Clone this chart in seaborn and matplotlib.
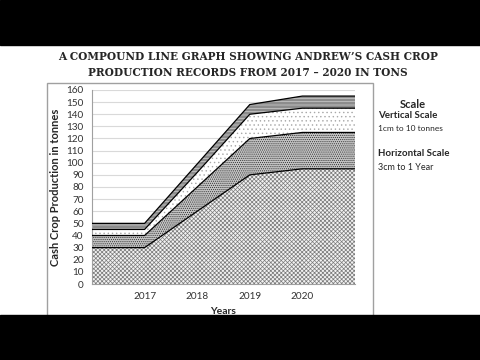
import matplotlib
matplotlib.use("Agg")
import matplotlib.pyplot as plt
import matplotlib.patches as mpatches
import seaborn as sns
import numpy as np

# positions 0..5, years sit on 1..4, the two ends are blank slots
positions = [0, 1, 2, 3, 4, 5]
tick_years = ["2017", "2018", "2019", "2020"]

# cumulative heights of each band (tonnes)
band1 = [30, 30, 60, 90, 95, 95]
band2 = [40, 40, 80, 120, 125, 125]
band3 = [45, 45, 92, 140, 145, 145]
band4 = [50, 50, 99, 148, 155, 155]

sns.set_style("white")
plt.rcParams["font.family"] = ["Lato", "DejaVu Sans"]
plt.rcParams["hatch.linewidth"] = 0.5

fig = plt.figure(figsize=(4.8, 3.6), dpi=100)
W, H = 480, 360

def fx(px):
    return px / W

def fy(py):
    return 1 - py / H

# outer chart frame
fig.patches.append(mpatches.Rectangle((fx(47), fy(330)), fx(373) - fx(47), fy(83) - fy(330),
                                      transform=fig.transFigure, fill=False,
                                      edgecolor="#a0a0a0", linewidth=1.0, zorder=0))

ax = fig.add_axes([fx(92), fy(284), fx(355) - fx(92), fy(90) - fy(284)])

lower = np.zeros(len(positions))
layers = [
    (band1, "#f2f2f2", "xxxxxxxx", "#7a7a7a"),
    (band2, "#c4c4c4", "........", "#303030"),
    (band3, "white", "....", "#a8a8a8"),
    (band4, "#8c8c8c", "-----", "#cfcfcf"),
]
for vals, fc, hatch, hc in layers:
    ax.fill_between(positions, lower, vals, facecolor=fc, hatch=hatch,
                    edgecolor=hc, linewidth=0, zorder=2)
    lower = np.array(vals)

for vals in [band1, band2, band3, band4]:
    sns.lineplot(x=positions, y=vals, color="black", linewidth=0.9, ax=ax, zorder=3)

ax.set_xlim(0, 5)
ax.set_ylim(0, 160)
ax.set_yticks(range(0, 161, 10))
ax.set_xticks([1, 2, 3, 4])
ax.set_xticklabels(tick_years)
ax.tick_params(axis="both", labelsize=7.2, colors="#333333", length=0, pad=6)
ax.yaxis.grid(True, color="#d9d9d9", linewidth=0.8, zorder=0)
ax.set_axisbelow(True)
for side in ["top", "right"]:
    ax.spines[side].set_visible(False)
ax.spines["left"].set_color("#a0a0a0")
ax.spines["bottom"].set_color("#a0a0a0")

ax.set_ylabel("Cash Crop Production in tonnes", fontsize=8, fontweight="bold", labelpad=4)
ax.set_xlabel("Years", fontsize=7.5, fontweight="bold", labelpad=4)

# title
fig.text(fx(248), fy(57), "A COMPOUND LINE GRAPH SHOWING ANDREW\u2019S CASH CROP",
         family="DejaVu Serif", fontweight="bold", fontsize=7.6, ha="center", va="center")
fig.text(fx(248), fy(73), "PRODUCTION RECORDS FROM 2017 \u2013 2020 IN TONS",
         family="DejaVu Serif", fontweight="bold", fontsize=7.6, ha="center", va="center")

# scale note
fig.text(fx(413), fy(104), "Scale", fontsize=8, fontweight="bold", ha="center", va="center")
fig.text(fx(378), fy(116), "Vertical Scale", fontsize=7, fontweight="bold", ha="left", va="center")
fig.text(fx(378), fy(128), "1cm to 10 tonnes", fontsize=6, ha="left", va="center")
fig.text(fx(378), fy(154), "Horizontal Scale", fontsize=7, fontweight="bold", ha="left", va="center")
fig.text(fx(378), fy(168), "3cm to 1 Year", fontsize=6.5, ha="left", va="center")

# black letterbox bands
fig.patches.append(mpatches.Rectangle((0, fy(45)), 1, 1 - fy(45), transform=fig.transFigure,
                                      color="black", zorder=10))
fig.patches.append(mpatches.Rectangle((0, 0), 1, fy(315), transform=fig.transFigure,
                                      color="black", zorder=10))

fig.savefig("out.png", dpi=100)
